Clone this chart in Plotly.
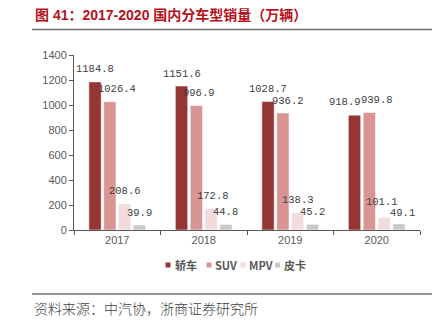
import plotly.graph_objects as go

# ---- data ----
years = ["2017", "2018", "2019", "2020"]
series_names = ["轿车", "SUV", "MPV", "皮卡"]
sedan = [1184.8, 1151.6, 1028.7, 918.9]
suv = [1026.4, 996.9, 936.2, 939.8]
mpv = [208.6, 172.8, 138.3, 101.1]
pickup = [39.9, 44.8, 45.2, 49.1]
values = [sedan, suv, mpv, pickup]
y_ticks = [0, 200, 400, 600, 800, 1000, 1200, 1400]

# ---- style ----
colors = ["#943634", "#D99594", "#F2DCDB", "#C9C9C9"]
# manual label nudges in px (series x year), as in the source
label_dx = [[0, 0, 0, -9.5], [7, 3, 5, 8], [0, 2, 0, -2], [0, 0, 0, 4]]
label_dy = [[12.5, 12.5, 12.5, 13], [12.5, 12.5, 11.5, 12.5], [12.5, 12.5, 12.5, 15], [12.5, 12.5, 12.5, 11]]

W, H = 444, 325
L, R, T, B = 74, 24, 55, 95
pw, ph = W - L - R, H - T - B
bargap, bargroupgap = 0.315, 0.17


def px_x(p):
    return (p - L) / pw


def px_y(p):
    return (H - B - p) / ph


fig = go.Figure()
for name, vals, c in zip(series_names, values, colors):
    fig.add_trace(go.Bar(x=years, y=vals, name=name, marker_color=c,
                         marker_line_color="white", marker_line_width=0.5,
                         showlegend=False))

annotations = []
shapes = []
cat_w = pw / len(years)
slot = cat_w * (1 - bargap) / len(values)
for i, vals in enumerate(values):
    for j, v in enumerate(vals):
        annotations.append(dict(
            x=j, y=v, xref="x", yref="y", text=f"{v:.1f}",
            showarrow=False, xanchor="center", yanchor="middle",
            xshift=(i - 1.5) * slot + label_dx[i][j], yshift=label_dy[i][j],
            font=dict(family="Liberation Mono, DejaVu Sans Mono", size=10.5, color="#404040")))

# title
annotations.append(dict(
    x=px_x(33), y=px_y(15), xref="paper", yref="paper", xanchor="left", yanchor="middle",
    text="<b>图 41：2017-2020 国内分车型销量（万辆）</b>", showarrow=False,
    font=dict(family="Liberation Sans, Noto Sans CJK SC", size=14, color="#B5121B")))
# source
annotations.append(dict(
    x=px_x(32), y=px_y(308), xref="paper", yref="paper", xanchor="left", yanchor="middle",
    text="资料来源：中汽协，浙商证券研究所", showarrow=False,
    font=dict(family="Noto Sans CJK SC", size=14, color="#404040", weight=300)))

# custom legend
leg_sq = [168, 209, 243, 277.5]
leg_tx = [173, 213, 247, 282]
for name, c, sx, tx in zip(series_names, colors, leg_sq, leg_tx):
    shapes.append(dict(type="rect", xref="paper", yref="paper",
                       x0=px_x(sx - 2.5), x1=px_x(sx + 2.5), y0=px_y(267.5), y1=px_y(262.5),
                       fillcolor=c, line=dict(width=0)))
    annotations.append(dict(
        x=px_x(tx), y=px_y(265), xref="paper", yref="paper", xanchor="left", yanchor="middle",
        text=f"<b>{name}</b>", showarrow=False,
        font=dict(family="Liberation Sans Narrow, Noto Sans CJK SC", size=11, color="#595959")))

# rules
for yy in (29.5, 294):
    shapes.append(dict(type="line", xref="paper", yref="paper",
                       x0=px_x(32), x1=px_x(432), y0=px_y(yy), y1=px_y(yy),
                       line=dict(color="#6e6e6e", width=1.3)))

fig.update_layout(
    width=W, height=H, margin=dict(l=L, r=R, t=T, b=B),
    paper_bgcolor="white", plot_bgcolor="white",
    barmode="group", bargap=bargap, bargroupgap=bargroupgap,
    annotations=annotations, shapes=shapes, showlegend=False,
    xaxis=dict(type="category", range=[-0.5, len(years) - 0.5], showline=True,
               linecolor="#595959", linewidth=1,
               ticks="outside", tickson="boundaries", ticklen=4, tickcolor="#595959",
               tickfont=dict(family="Liberation Sans, Arial", size=11, color="#595959"),
               showgrid=False),
    yaxis=dict(range=[0, 1400], tickvals=y_ticks, showline=True, linecolor="#595959",
               linewidth=1, ticks="outside", ticklen=4, tickcolor="#595959",
               tickfont=dict(family="Liberation Sans, Arial", size=11, color="#595959"),
               showgrid=False, zeroline=False),
)

fig.write_html("out.html")
